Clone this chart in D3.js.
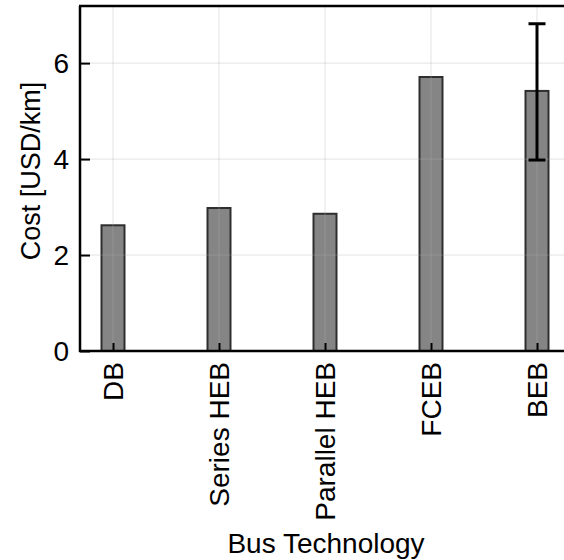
<!DOCTYPE html>
<html>
<head>
<meta charset="utf-8">
<script src="https://cdn.jsdelivr.net/npm/d3@7"></script>
<style>
  body { margin: 0; background: #fff; }
  text { font-family: "Liberation Sans", Arial, sans-serif; }
</style>
</head>
<body>
<div id="chart"></div>
<script>
// data
var categories = ["DB", "Series HEB", "Parallel HEB", "FCEB", "BEB"];
var costs = [2.62, 2.98, 2.86, 5.71, 5.42];
var errLow = [null, null, null, null, 3.98];
var errHigh = [null, null, null, null, 6.82];
var yTicks = [0, 2, 4, 6];

var w = 564;
var h = 560;
var plotLeft = 80, plotTop = 6, plotBottom = 351, plotRight = 570;

var svg = d3.select("#chart")
    .append("svg")
    .attr("width", w)
    .attr("height", h);

var x = d3.scalePoint()
    .domain(categories)
    .range([113, 537]);

var y = d3.scaleLinear()
    .domain([0, 7.19])
    .range([plotBottom, plotTop]);

var barW = 23;

// bars
svg.selectAll("rect.bar")
    .data(categories)
    .enter()
    .append("rect")
    .attr("class", "bar")
    .attr("x", function(d) { return x(d) - barW / 2; })
    .attr("y", function(d, i) { return y(costs[i]); })
    .attr("width", barW)
    .attr("height", function(d, i) { return y(0) - y(costs[i]); })
    .attr("fill", "#858585")
    .attr("stroke", "#2e2e2e")
    .attr("stroke-width", 2);

// grid drawn on top, faint
var grid = svg.append("g").attr("stroke", "#b0b0b0").attr("stroke-opacity", 0.35).attr("stroke-width", 1);
grid.selectAll("line.gy")
    .data(yTicks.slice(1))
    .enter()
    .append("line")
    .attr("x1", plotLeft).attr("x2", plotRight)
    .attr("y1", function(d) { return y(d); })
    .attr("y2", function(d) { return y(d); });
grid.selectAll("line.gx")
    .data(categories)
    .enter()
    .append("line")
    .attr("x1", function(d) { return x(d); })
    .attr("x2", function(d) { return x(d); })
    .attr("y1", plotTop).attr("y2", plotBottom);

// error bars
var errData = categories.map(function(c, i) { return {c: c, lo: errLow[i], hi: errHigh[i]}; })
    .filter(function(d) { return d.lo != null; });
var eb = svg.selectAll("g.err")
    .data(errData)
    .enter()
    .append("g")
    .attr("stroke", "#000")
    .attr("stroke-width", 3);
eb.append("line")
    .attr("x1", function(d) { return x(d.c); })
    .attr("x2", function(d) { return x(d.c); })
    .attr("y1", function(d) { return y(d.lo); })
    .attr("y2", function(d) { return y(d.hi); });
eb.append("line")
    .attr("x1", function(d) { return x(d.c) - 8.5; })
    .attr("x2", function(d) { return x(d.c) + 8.5; })
    .attr("y1", function(d) { return y(d.hi); })
    .attr("y2", function(d) { return y(d.hi); });
eb.append("line")
    .attr("x1", function(d) { return x(d.c) - 8.5; })
    .attr("x2", function(d) { return x(d.c) + 8.5; })
    .attr("y1", function(d) { return y(d.lo); })
    .attr("y2", function(d) { return y(d.lo); });

// axes (ticks pointing inward)
var yAxis = svg.append("g")
    .attr("transform", "translate(" + plotLeft + ",0)")
    .call(d3.axisRight(y).tickValues(yTicks).tickSize(10).tickFormat(""));
yAxis.select(".domain").remove();
yAxis.selectAll(".tick line").attr("stroke", "#000").attr("stroke-width", 2);

svg.selectAll("text.ytick")
    .data(yTicks)
    .enter()
    .append("text")
    .attr("class", "ytick")
    .attr("x", 69)
    .attr("y", function(d) { return y(d); })
    .attr("dy", "0.36em")
    .attr("text-anchor", "end")
    .attr("font-size", 28)
    .text(function(d) { return d; });

var xAxis = svg.append("g")
    .attr("transform", "translate(0," + plotBottom + ")")
    .call(d3.axisTop(x).tickSize(8).tickFormat(""));
xAxis.select(".domain").remove();
xAxis.selectAll(".tick line").attr("stroke", "#000").attr("stroke-width", 2);

svg.selectAll("text.xtick")
    .data(categories)
    .enter()
    .append("text")
    .attr("class", "xtick")
    .attr("transform", function(d) { return "translate(" + x(d) + "," + (plotBottom + 11) + ") rotate(-90)"; })
    .attr("dy", "0.36em")
    .attr("text-anchor", "end")
    .attr("font-size", 28)
    .text(function(d) { return d; });

// spines
var spine = svg.append("g").attr("stroke", "#000").attr("stroke-width", 2.5).attr("fill", "none");
spine.append("line").attr("x1", plotLeft).attr("x2", plotLeft).attr("y1", plotTop).attr("y2", plotBottom + 1);
spine.append("line").attr("x1", plotLeft - 1).attr("x2", plotRight).attr("y1", plotBottom).attr("y2", plotBottom);
spine.append("line").attr("x1", plotLeft - 1).attr("x2", plotRight).attr("y1", plotTop).attr("y2", plotTop);

// axis titles
svg.append("text")
    .attr("transform", "translate(40,171) rotate(-90)")
    .attr("text-anchor", "middle")
    .attr("font-size", 27)
    .text("Cost [USD/km]");

svg.append("text")
    .attr("x", 326)
    .attr("y", 553)
    .attr("text-anchor", "middle")
    .attr("font-size", 28)
    .text("Bus Technology");
</script>
</body>
</html>
